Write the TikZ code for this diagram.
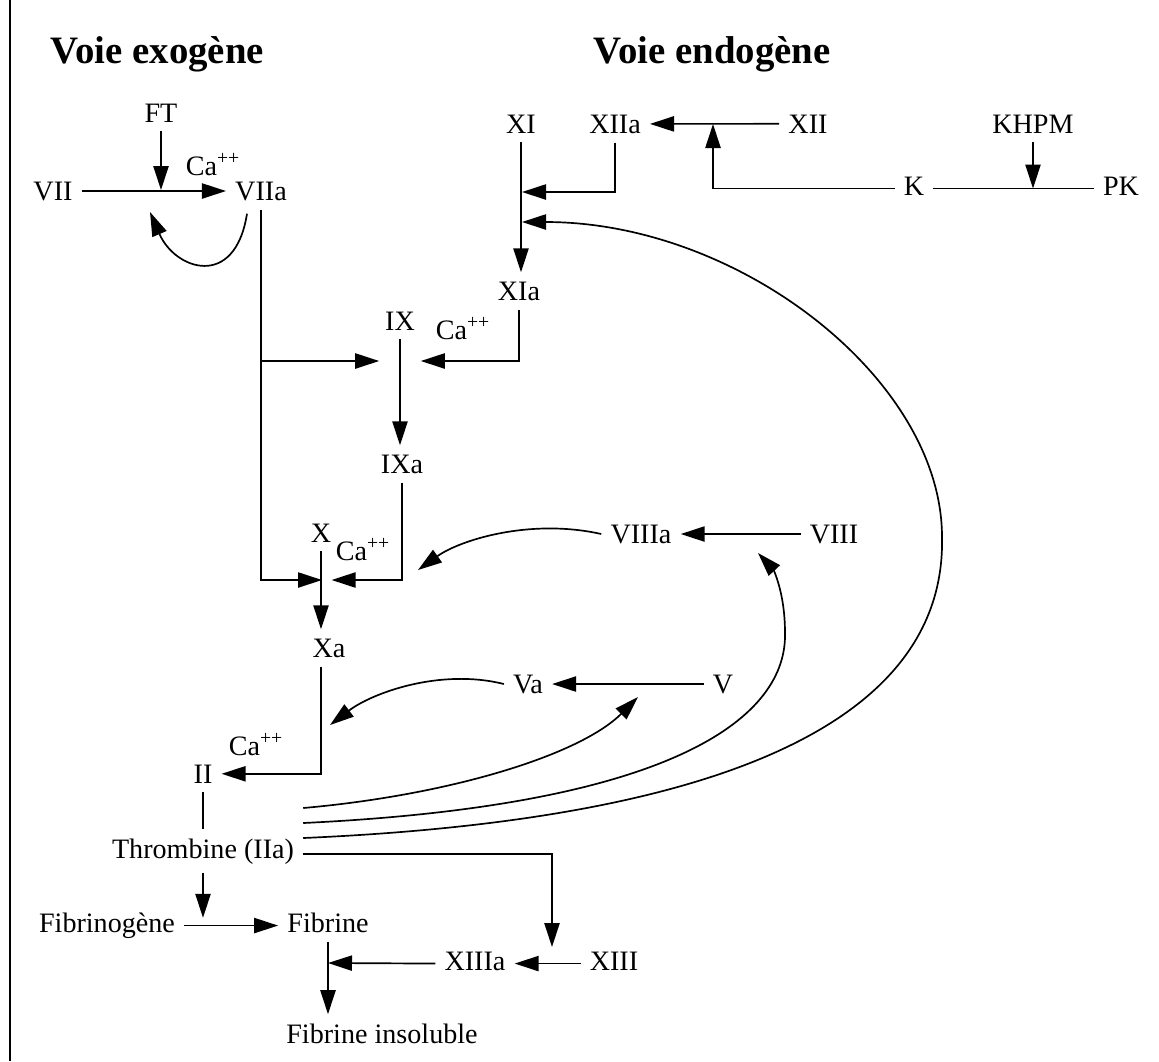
\documentclass[tikz,border=0pt]{standalone}
\usepackage{fontspec}
\setmainfont{Liberation Serif}
\usetikzlibrary{arrows.meta,calc}

\begin{document}
\begin{tikzpicture}[
  x=0.125mm, y=-0.125mm,
  font=\fontsize{10}{12}\selectfont,
  line width=.6pt,
  fac/.style={inner sep=3pt, anchor=base},
  ion/.style={inner sep=0pt, anchor=base west},
  heading/.style={inner sep=0pt, anchor=base west,
    font=\fontsize{13.8}{16}\selectfont\bfseries},
  arr/.style={-{Triangle[length=3mm,width=1.9mm]}},
  link/.style={line width=.5pt}
]
\useasboundingbox (0,0) rectangle (1159,1061);
\draw[line width=1pt] (10,0) -- (10,1061);

% titres
\node[heading] (exo) at (50,63) {Voie exogène};
\node[heading] (endo) at (593,63) {Voie endogène};

% voie exogene
\node[fac] (FT) at (161,122) {FT};
\node[fac] (VII) at (53,200) {VII};
\node[fac] (VIIa) at (261,200) {VIIa};
\node[ion] (ca1) at (185,175) {Ca\textsuperscript{++}};

% voie endogene
\node[fac] (XI) at (521,133) {XI};
\node[fac] (XIIa) at (615,133) {XIIa};
\node[fac] (XII) at (808,133) {XII};
\node[fac] (KHPM) at (1033,133) {KHPM};
\node[fac] (K) at (914,195) {K};
\node[fac] (PK) at (1121,195) {PK};
\node[fac] (XIa) at (519,300) {XIa};

% voie commune
\node[fac] (IX) at (400,330) {IX};
\node[ion] (ca2) at (435,339) {Ca\textsuperscript{++}};
\node[fac] (IXa) at (402,473) {IXa};
\node[fac] (X) at (321,542) {X};
\node[ion] (ca3) at (335,560) {Ca\textsuperscript{++}};
\node[fac] (Xa) at (329,657) {Xa};
\node[fac] (VIIIa) at (641,543) {VIIIa};
\node[fac] (VIII) at (834,543) {VIII};
\node[fac] (Va) at (528,693) {Va};
\node[fac] (V) at (723,693) {V};
\node[ion] (ca4) at (228,755) {Ca\textsuperscript{++}};
\node[fac] (II) at (203,783) {II};
\node[fac] (Thr) at (203,858) {Thrombine (IIa)};
\node[fac] (Fgen) at (107,932) {Fibrinogène};
\node[fac] (Fib) at (328,932) {Fibrine};
\node[fac] (XIIIa) at (475,970) {XIIIa};
\node[fac] (XIII) at (614,970) {XIII};
\node[fac] (Fins) at (382,1043) {Fibrine insoluble};

% points d'impact
\coordinate (jVII) at (161,190);
\coordinate (jVII2) at (150,212);
\coordinate (jIX) at (400,361);
\coordinate (jX) at (322,580);
\coordinate (jIXaX) at (418,570);
\coordinate (jXa) at (322,725);
\coordinate (jV) at (638,697);
\coordinate (jVIII) at (758,553);
\coordinate (jXI1) at (522,192);
\coordinate (jXI2) at (522,222);
\coordinate (jXII) at (713,124);
\coordinate (jFib) at (203,925);
\coordinate (jFibI) at (328,963);
\coordinate (jXIII) at (552,963);

% exogene
\draw[arr] (VII) -- (VIIa);
\draw[arr] (FT) -- (jVII);
\draw[arr] ($(VIIa.south)+(-14,4)$) .. controls (235,290) and (175,270) .. (jVII2);
\draw[arr] (VIIa.south) |- (jX);
\draw[arr] (VIIa.south |- jIX) -- ([xshift=-2.6mm]jIX);

% endogene
\draw[arr] (XI) -- (XI |- XIa.north);
\draw[arr] (XIIa.south) |- (jXI1);
\draw[arr] (XII) -- (XIIa);
\draw[arr] (K.mid west) -| (jXII);
\draw (K.mid east) -- (PK.mid west);
\draw[arr] (KHPM) -- (KHPM |- PK.mid west);
\draw[arr] (XIa.south) |- ([xshift=2.6mm]jIX);

% IX, X
\draw[arr] (IX) -- (IX |- IXa.north);
\draw[arr] (IXa.south) |- ([xshift=1.2mm]jX);
\draw[arr] (X) -- (X |- Xa.north);
\draw[arr] (X |- Xa.south) |- (II);
\draw[arr] (VIII) -- (VIIIa);
\draw[arr] (VIIIa.west) .. controls (530,518) and (460,540) .. (jIXaX);
\draw[arr] (V) -- (Va);
\draw[arr] (Va.west) .. controls (440,668) and (372,693) .. ([xshift=1mm]jXa);

% thrombine
\draw[link] (II) -- (II |- Thr.north);
\draw[arr] (Thr) -- ([yshift=.9mm]jFib);
\draw[arr] (Fgen.mid east) -- (Fib.mid west);
\draw[arr] (Fib) -- (Fib |- Fins.north);
\draw[arr] (XIII.mid west) -- (XIIIa.mid east);
\draw[arr] (XIIIa.mid west) -- (jFibI);
\draw[arr] ($(Thr.base east)+(0,-4)$) -| ([yshift=2mm]jXIII);
\draw[arr] ($(Thr.base east)+(0,-50)$) .. controls (450,795) and (580,755) .. (jV);
\draw[arr] ($(Thr.base east)+(0,-35)$) .. controls (680,805) and (787,715) .. (785,633)
  .. controls (785,590) and (772,568) .. (jVIII);
\draw[arr] ($(Thr.base east)+(0,-20)$) .. controls (830,815) and (945,670) .. (942,537)
  .. controls (942,380) and (740,222) .. (jXI2);

\end{tikzpicture}
\end{document}
